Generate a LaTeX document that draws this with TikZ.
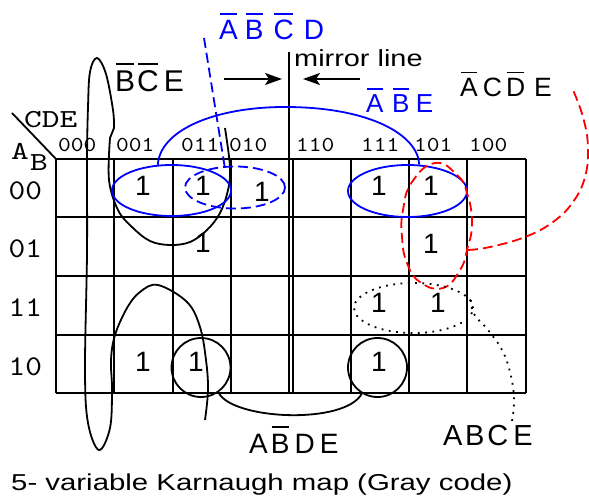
\documentclass[tikz,border=0pt]{standalone}
\usepackage{fontspec}
\usepackage{graphicx}
\setmainfont{Liberation Sans}
\newfontfamily\bitfont{lmmono10-regular}[Extension=.otf]
\usepackage{tikz}
\usetikzlibrary{arrows.meta, shapes.geometric}
\definecolor{kblue}{RGB}{0,0,255}
\definecolor{kred}{RGB}{255,0,0}

% letter with a bar over it
\newcommand{\nbar}[1]{\setbox0=\hbox{#1}%
  \rlap{\kern0.03em\rule[\dimexpr\ht0+0.2em\relax]{\dimexpr\wd0-0.06em\relax}{0.07em}}\box0}
% widened text
\newcommand{\sx}[2]{\scalebox{#1}[1]{#2}}

\begin{document}
\begin{tikzpicture}[x=1pt, y=-1pt,
  grid/.style={line width=2pt},
  loop/.style={line width=1.8pt},
  dashline/.style={dash pattern=on 10pt off 5pt},
  dotline/.style={dash pattern=on 1.8pt off 5.5pt},
  one/.style={font=\fontsize{28}{30}\selectfont, inner sep=0pt},
  bits/.style={font=\bitfont\fontsize{21.3}{24}\selectfont, anchor=base west, inner sep=0pt},
  rowbits/.style={font=\bitfont\fontsize{28.6}{30}\selectfont, anchor=base west, inner sep=0pt},
  lbl/.style={anchor=base west, inner sep=0pt},
  oval/.style={ellipse, draw, inner sep=0pt, line width=1.8pt},
  ring/.style={circle, draw, inner sep=0pt, minimum size=59pt, line width=1.8pt},
  arr/.style={-{Stealth[length=17pt, width=12pt, inset=4pt]}, line width=1.8pt}
]
\useasboundingbox (0,0) rectangle (589,497);

% Map grid, two halves either side of the mirror
\foreach \i in {0,...,4} {
  \draw[grid] (56+\i*58.25,159) -- (56+\i*58.25,393);
  \draw[grid] (292.5+\i*58.25,159) -- (292.5+\i*58.25,393);
}
\foreach \j in {0,...,4}
  \draw[grid] (56,159+\j*58.5) -- (525.5,159+\j*58.5);

% Corner with variable names
\coordinate (corner) at (56,159);
\coordinate (diag) at (12,113);
\draw[loop] (diag) -- (corner);
\node[lbl, font=\bitfont\fontsize{26}{28}\selectfont] (cde) at (24,128) {\sx{1.3}{CDE}};
\node[lbl, font=\bitfont\fontsize{26}{28}\selectfont] (va) at (11,160) {\sx{1.3}{A}};
\node[lbl, font=\bitfont\fontsize{26}{28}\selectfont] (vb) at (30,170.5) {\sx{1.3}{B}};

% Gray code labels
\foreach \x/\t in {58/000, 116/001, 181/011, 229/010, 296/110, 361/111, 414/101, 469/100}
  \node[bits] (c\t) at (\x,151.5) {\sx{1.14}{\t}};
\foreach \y/\t in {199.5/00, 258/01, 316.5/11, 375/10}
  \node[rowbits] (r\t) at (8.5,\y) {\sx{1.11}{\t}};

% Ones
\foreach \x/\y/\n in {143/186/o1, 203/186/o2, 262/192/o3, 379/186/o4, 431/186/o5,
                      203/243/o6, 431/244/o7, 379/303/o8, 438/303/o9,
                      143/362/o10, 196/362/o11, 379/362/o12}
  \node[one] (\n) at (\x,\y) {1};

% Mirror line
\coordinate (mtop) at (289,52);
\coordinate (mbot) at (289,159);
\draw[grid] (mtop) -- (mbot);
\node[lbl, font=\fontsize{23.3}{26}\selectfont] (mirror) at (294,67) {\sx{1.24}{mirror line}};
\coordinate (la) at (224,79);
\coordinate (lb) at (282,79);
\coordinate (ra) at (360,79);
\coordinate (rb) at (303,79);
\draw[arr] (la) -- (lb);
\draw[arr] (ra) -- (rb);

% B'C'E: wraps over rows 00 and 10
\node[lbl, font=\fontsize{30}{32}\selectfont] (bce) at (115,92)
  {\nbar{B}\hspace{2pt}\nbar{C}\hspace{5pt}E};
\draw[loop] plot[smooth, tension=0.6] coordinates {
    (225,128) (230,167) (228,190) (220,213) (207,230) (190,242) (170,245)
    (150,241) (132,227) (118,210) (109,180) (110,138)}
  -- plot[smooth, tension=0.6] coordinates {
    (114,128) (113,110) (106,74) (97,58) (90,72) (88,107) (87,160) (87,253)
    (85,370) (88,423) (99,450) (110,428) (112,390) (111,360) (115,335)
    (127,308) (140,292) (158,285) (187,302) (200,327) (206,360) (208,390) (205,420)};

% A'B'E: two blue ovals joined across the mirror
\node[oval, draw=kblue, minimum width=119pt, minimum height=51pt] (abeL) at (171.5,190.5) {};
\node[oval, draw=kblue, minimum width=119pt, minimum height=52pt] (abeR) at (407.5,191) {};
\draw[loop, kblue] (abeL.118) .. controls (160,130) and (215,107) .. (285,107)
  .. controls (370,107) and (418,135) .. (abeR.66);
\node[lbl, font=\fontsize{26}{28}\selectfont, text=kblue] (abe) at (366,113)
  {\nbar{A}\hspace{8.5pt}\nbar{B}\hspace{6.5pt}E};

% A'B'C'D: dashed blue oval
\node[oval, draw=kblue, dashline, minimum width=100pt, minimum height=42pt] (abcdE) at (235,187.5) {};
\node[lbl, font=\fontsize{28}{30}\selectfont, text=kblue] (abcd) at (219,40)
  {\nbar{A}\hspace{7pt}\nbar{B}\hspace{10pt}\nbar{C}\hspace{10pt}D};
\coordinate (abcdTail) at (204,38);
\draw[loop, kblue, dashline] (abcdTail) -- (abcdE.116);

% A'CD'E: dashed red loop
\draw[loop, kred, dashline] plot[smooth cycle, tension=0.8] coordinates {
  (435,163) (457,175) (467,193) (472,223) (467,250) (460,270) (443,288)
  (420,282) (407,263) (402,237) (403,210) (412,182)};
\coordinate (acdeTail) at (468,250);
\coordinate (acdeEnd) at (573,90);
\draw[loop, kred, dashline] plot[smooth, tension=0.7] coordinates {
  (acdeTail) (490,247) (525,237) (553,222) (573,202) (585,177) (588,147) (583,117) (acdeEnd)};
\node[lbl, font=\fontsize{26.5}{28}\selectfont] (acde) at (460,97)
  {\nbar{A}\hspace{5pt}C\hspace{4pt}\nbar{D}\hspace{9pt}E};

% ABCE: dotted oval
\node[oval, dotline, minimum width=119pt, minimum height=50pt] (abceE) at (413.5,308) {};
\coordinate (abceEnd) at (512,421);
\draw[loop, dotline] plot[smooth, tension=0.7] coordinates {
  (abceE.8) (474,314) (488,330) (502,350) (510,372) (514,398) (abceEnd)};
\node[lbl, font=\fontsize{29}{31}\selectfont] (abce) at (443,445)
  {A\hspace{2.5pt}B\hspace{3pt}C\hspace{5pt}E};

% AB'DE: two circles in row 10
\node[ring] (abdeL) at (201,367.5) {};
\node[ring] (abdeR) at (377.5,367.5) {};
\draw[loop] (abdeL.-55) .. controls (232,420) and (345,425) .. (abdeR.-121);
\node[lbl, font=\fontsize{28}{30}\selectfont] (abde) at (249,453)
  {A\hspace{3pt}\nbar{B}\hspace{5pt}D\hspace{5pt}E};

% Caption
\node[lbl, font=\fontsize{23}{26}\selectfont] (caption) at (11,490)
  {\sx{1.277}{5- variable Karnaugh map (Gray code)}};

\end{tikzpicture}
\end{document}
